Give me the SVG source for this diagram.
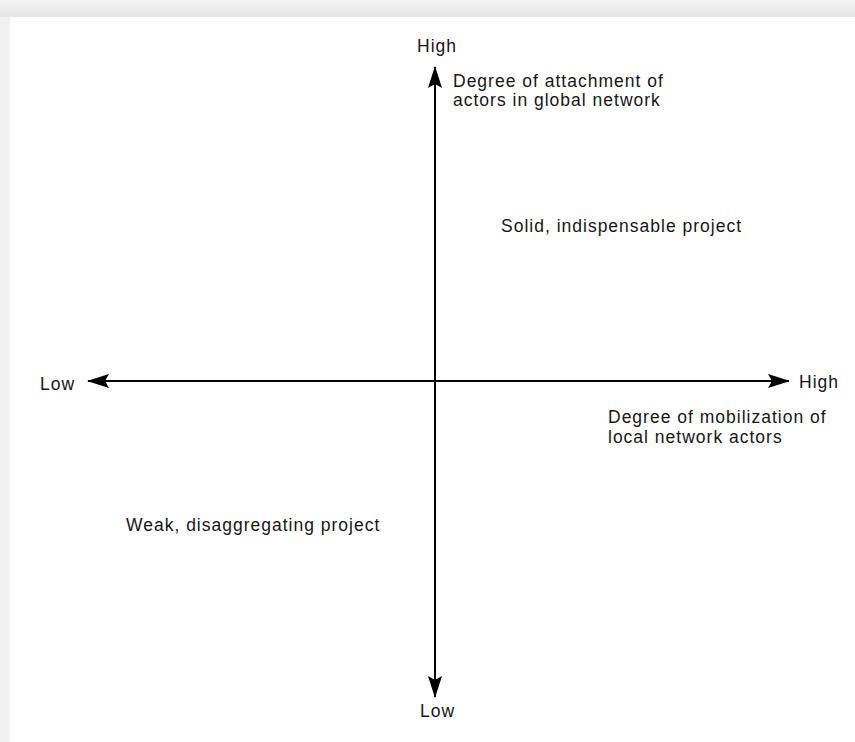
<svg xmlns="http://www.w3.org/2000/svg" width="855" height="742" viewBox="0 0 855 742">
<defs>
<linearGradient id="gt" x1="0" y1="0" x2="0" y2="1"><stop offset="0" stop-color="#f4f4f4"/><stop offset="1" stop-color="#e6e6e6"/></linearGradient>
<marker id="ah" viewBox="0 0 22 14" refX="21" refY="7" markerWidth="22" markerHeight="14" markerUnits="userSpaceOnUse" orient="auto"><path d="M0,0 L22,7 L0,14 L4,7 Z" fill="#000"/></marker>
</defs>
<style>
text{font-family:"Liberation Sans",Arial,sans-serif;font-size:17.5px;letter-spacing:1px;fill:#161616}
.ax{stroke:#000;stroke-width:2;fill:none}
</style>
<rect width="855" height="742" fill="#f1f1f1"/>
<rect x="0" y="0" width="855" height="17" fill="url(#gt)"/>
<rect x="10" y="17" width="845" height="725" fill="#fff"/>
<g id="connectors">
<line class="ax" x1="435" y1="381" x2="435" y2="67" marker-end="url(#ah)"/>
<line class="ax" x1="435" y1="381" x2="435" y2="697" marker-end="url(#ah)"/>
<line class="ax" x1="435" y1="381" x2="88" y2="381" marker-end="url(#ah)"/>
<line class="ax" x1="435" y1="381" x2="789" y2="381" marker-end="url(#ah)"/>
</g>
<g id="y-high"><text x="417" y="52">High</text></g>
<g id="y-label"><text x="453" y="87">Degree of attachment of</text><text x="453" y="106">actors in global network</text></g>
<g id="solid"><text x="501" y="232">Solid, indispensable project</text></g>
<g id="x-low"><text x="40" y="390">Low</text></g>
<g id="x-high"><text x="799" y="388">High</text></g>
<g id="x-label"><text x="608" y="423">Degree of mobilization of</text><text x="608" y="443">local network actors</text></g>
<g id="weak"><text x="126" y="531">Weak, disaggregating project</text></g>
<g id="y-low"><text x="420" y="717">Low</text></g>
</svg>
